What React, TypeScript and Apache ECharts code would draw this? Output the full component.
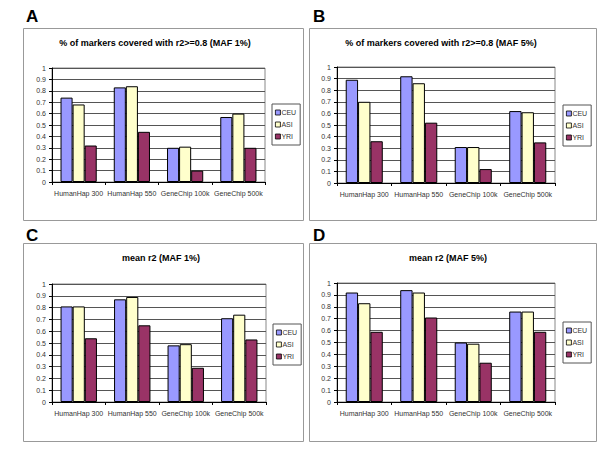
import React, { useEffect, useRef } from "react";
import * as echarts from "echarts";

const categories = ["HumanHap 300", "HumanHap 550", "GeneChip 100k", "GeneChip 500k"];
const seriesNames = ["CEU", "ASI", "YRI"];

const ceuA = [0.74, 0.83, 0.30, 0.57];
const asiA = [0.68, 0.84, 0.31, 0.60];
const yriA = [0.32, 0.44, 0.10, 0.30];

const ceuB = [0.89, 0.92, 0.31, 0.62];
const asiB = [0.70, 0.86, 0.31, 0.61];
const yriB = [0.36, 0.52, 0.12, 0.35];

const ceuC = [0.81, 0.87, 0.48, 0.71];
const asiC = [0.81, 0.89, 0.49, 0.74];
const yriC = [0.54, 0.65, 0.29, 0.53];

const ceuD = [0.92, 0.94, 0.50, 0.76];
const asiD = [0.83, 0.92, 0.49, 0.76];
const yriD = [0.59, 0.71, 0.33, 0.59];

const titles = [
  "% of markers covered with r2>=0.8 (MAF 1%)",
  "% of markers covered with r2>=0.8 (MAF 5%)",
  "mean r2 (MAF 1%)",
  "mean r2 (MAF 5%)",
];
const letters = ["A", "B", "C", "D"];

const panelData = [
  [ceuA, asiA, yriA],
  [ceuB, asiB, yriB],
  [ceuC, asiC, yriC],
  [ceuD, asiD, yriD],
];

const colors = ["#9999FF", "#FFFFCC", "#993366"];

// layout (pixels)
const layout = [
  { box: [23, 28, 280, 192], letter: [26, 16], grid: [52, 68, 213, 114], title: [155, 43], legend: [272, 104] },
  { box: [309, 28, 287, 192], letter: [313, 16], grid: [337, 67, 218, 116], title: [441, 43], legend: [563, 105] },
  { box: [23, 243, 280, 198], letter: [26, 235], grid: [52, 284, 214, 118], title: [161, 258], legend: [273, 324] },
  { box: [309, 243, 287, 198], letter: [313, 235], grid: [337, 283, 218, 119], title: [448, 258], legend: [563, 322] },
];

const FONT = "Arial, 'Liberation Sans', sans-serif";

export default function App() {
  const ref = useRef<HTMLDivElement>(null);
  useEffect(() => {
    if (!ref.current) return;
    const chart = echarts.init(ref.current, undefined, { renderer: "svg" });
    const graphic: any[] = [];
    layout.forEach((l, i) => {
      graphic.push({
        type: "rect",
        shape: { x: l.box[0] + 0.5, y: l.box[1] + 0.5, width: l.box[2], height: l.box[3] },
        style: { fill: "#fff", stroke: "#999", lineWidth: 1 },
        z: -10,
      });
      graphic.push({
        type: "text",
        x: l.letter[0],
        y: l.letter[1],
        style: {
          text: letters[i],
          font: `bold 17px ${FONT}`,
          fill: "#000",
          textVerticalAlign: "middle",
        },
      });
      graphic.push({
        type: "text",
        x: l.title[0],
        y: l.title[1],
        style: {
          text: titles[i],
          font: `bold 9px ${FONT}`,
          fill: "#000",
          textAlign: "center",
          textVerticalAlign: "middle",
        },
      });
    });

    const option: any = {
      animation: false,
      backgroundColor: "#fff",
      graphic,
      grid: layout.map((l) => ({
        left: l.grid[0],
        top: l.grid[1],
        width: l.grid[2],
        height: l.grid[3],
        show: true,
        borderColor: "#888",
        borderWidth: 1,
        backgroundColor: "#fff",
        containLabel: false,
      })),
      xAxis: layout.map((l, i) => ({
        type: "category",
        gridIndex: i,
        data: categories,
        axisLine: { lineStyle: { color: "#000", width: 1 } },
        axisTick: { show: true, length: 3, lineStyle: { color: "#000" } },
        axisLabel: { fontSize: 7, color: "#333", fontFamily: FONT, margin: 8, interval: 0 },
      })),
      yAxis: layout.map((l, i) => ({
        type: "value",
        gridIndex: i,
        min: 0,
        max: 1,
        interval: 0.1,
        axisLine: { show: true, lineStyle: { color: "#000", width: 1 } },
        axisTick: { show: true, length: 3, lineStyle: { color: "#000" } },
        splitLine: { show: true, lineStyle: { color: "#555", width: 1 } },
        axisLabel: { fontSize: 7, color: "#333", fontFamily: FONT, margin: 6 },
      })),
      legend: layout.map((l) => ({
        left: l.legend[0],
        top: l.legend[1],
        orient: "vertical",
        data: seriesNames,
        icon: "rect",
        itemWidth: 5,
        itemHeight: 5,
        itemGap: 5,
        padding: [5, 4, 5, 3],
        borderColor: "#555",
        borderWidth: 1,
        backgroundColor: "#fff",
        selectedMode: false,
        textStyle: { fontSize: 7, color: "#333", fontFamily: FONT, padding: [0, 0, 0, -4] },
        itemStyle: { borderColor: "#000", borderWidth: 0.8 },
      })),
      series: panelData.flatMap((vals, i) =>
        vals.map((d, s) => ({
          type: "bar",
          name: seriesNames[s],
          xAxisIndex: i,
          yAxisIndex: i,
          data: d,
          barGap: "0%",
          barCategoryGap: "32%",
          itemStyle: { color: colors[s], borderColor: "#000", borderWidth: 1 },
        }))
      ),
    };
    chart.setOption(option);
    return () => chart.dispose();
  }, []);
  return (
    <div
      ref={ref}
      style={{ position: "fixed", left: 0, top: 0, width: 600, height: 450 }}
    />
  );
}
